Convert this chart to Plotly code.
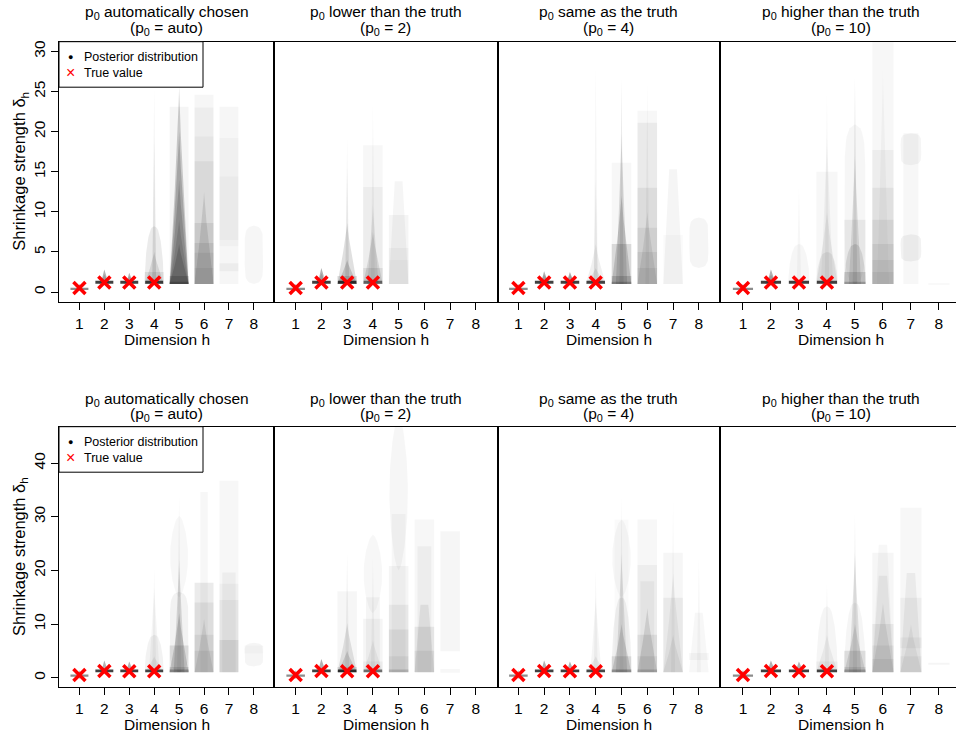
import numpy as np
import plotly.graph_objects as go

W, H = 956, 736
FONT = "Liberation Sans, Arial, sans-serif"

# ---------------- data ----------------
dims = [1, 2, 3, 4, 5, 6, 7, 8]
true_dims = [1, 2, 3, 4]
true_top = [0.5, 1.2, 1.2, 1.2]
true_bottom = [0.5, 1.25, 1.2, 1.2]

panel_labels = ["automatically chosen", "lower than the truth",
                "same as the truth", "higher than the truth"]
panel_p0 = ["auto", "2", "4", "10"]

yticks_top = [0, 5, 10, 15, 20, 25, 30]
yticks_bottom = [0, 10, 20, 30, 40]

# posterior layers: (dimension, low, high, shape, shade)
top_auto = [
    (1, 0.25, 0.55, 'bar', 0.45), (1, 0.1, 1.0, 'n', 0.25),
    (2, 1.05, 1.4, 'bar', 0.75), (2, 0.8, 2.8, 'n', 0.3), (2, 1.0, 2.2, 'm', 0.12),
    (3, 1.05, 1.4, 'bar', 0.75), (3, 0.8, 2.4, 'n', 0.3), (3, 1.0, 2.0, 'm', 0.1),
    (4, 1.05, 1.4, 'bar', 0.7), (4, 1.0, 25.5, 's', 0.05), (4, 1.0, 19.0, 's', 0.06),
    (4, 1.0, 8.2, 'd', 0.08), (4, 1.0, 5.0, 'v', 0.1), (4, 1.0, 2.5, 'b', 0.08),
    (5, 1.0, 23.1, 'b', 0.04), (5, 1.0, 25.6, 'v', 0.18), (5, 1.0, 20.0, 'v', 0.18),
    (5, 1.0, 14.0, 'v', 0.15), (5, 1.0, 9.0, 'v', 0.12), (5, 1.0, 6.0, 'v', 0.15),
    (5, 1.0, 2.0, 'b', 0.15), (5, 1.0, 1.3, 'b', 0.2),
    (6, 1.0, 24.6, 'b', 0.035), (6, 1.0, 23.0, 'b', 0.035), (6, 1.0, 19.4, 'b', 0.03),
    (6, 1.0, 16.3, 'b', 0.05), (6, 1.0, 12.5, 'v', 0.1), (6, 1.0, 8.6, 'b', 0.07),
    (6, 1.0, 6.1, 'b', 0.07), (6, 1.0, 4.9, 'b', 0.06), (6, 1.0, 3.0, 'b', 0.05),
    (7, 1.0, 23.1, 'b', 0.035), (7, 5.7, 19.2, 'b', 0.025), (7, 6.5, 14.4, 'b', 0.025),
    (7, 2.6, 3.6, 'b', 0.04),
    (8, 1.0, 8.3, 'o', 0.035),
]
top_p2 = [
    (1, 0.25, 0.55, 'bar', 0.45), (1, 0.1, 1.0, 'n', 0.25),
    (2, 1.05, 1.4, 'bar', 0.75), (2, 0.8, 3.0, 'n', 0.3), (2, 1.0, 2.3, 'm', 0.12),
    (3, 1.05, 1.4, 'bar', 0.75), (3, 1.0, 19.4, 's', 0.04), (3, 1.0, 15.7, 's', 0.05),
    (3, 1.0, 8.6, 'v', 0.12), (3, 1.0, 4.0, 'v', 0.15), (3, 1.0, 2.0, 'b', 0.12),
    (4, 1.05, 1.4, 'bar', 0.5), (4, 1.0, 23.6, 's', 0.04), (4, 1.0, 18.3, 'b', 0.03),
    (4, 1.0, 13.1, 'b', 0.04), (4, 1.0, 11.0, 'm', 0.08), (4, 1.0, 7.5, 'v', 0.1),
    (4, 1.0, 3.0, 'b', 0.08),
    (5, 1.0, 13.8, 't', 0.04), (5, 1.0, 9.6, 'b', 0.04), (5, 1.0, 5.5, 'b', 0.03),
    (5, 1.0, 4.0, 'b', 0.02),
]
top_p4 = [
    (1, 0.25, 0.55, 'bar', 0.45), (1, 0.1, 1.0, 'n', 0.25),
    (2, 1.05, 1.4, 'bar', 0.75), (2, 0.8, 2.6, 'n', 0.3), (2, 1.0, 2.2, 'm', 0.12),
    (3, 1.05, 1.4, 'bar', 0.75), (3, 0.8, 2.5, 'n', 0.3), (3, 1.0, 2.2, 'm', 0.1),
    (4, 1.05, 1.4, 'bar', 0.7), (4, 1.0, 28.2, 's', 0.04), (4, 1.0, 14.2, 's', 0.06),
    (4, 1.0, 6.0, 'v', 0.06), (4, 1.0, 3.0, 'v', 0.08),
    (5, 1.0, 26.7, 's', 0.08), (5, 1.0, 16.1, 'b', 0.03), (5, 1.0, 19.8, 'm', 0.12),
    (5, 1.0, 12.0, 'v', 0.15), (5, 1.0, 6.0, 'b', 0.12), (5, 1.0, 2.0, 'b', 0.15),
    (5, 1.0, 1.3, 'b', 0.2),
    (6, 1.0, 26.3, 's', 0.04), (6, 1.0, 22.6, 'b', 0.03), (6, 1.0, 21.1, 'b', 0.05),
    (6, 1.0, 13.0, 'b', 0.06), (6, 1.0, 10.0, 'v', 0.08), (6, 1.0, 8.0, 'b', 0.06),
    (6, 1.0, 5.0, 'b', 0.06), (6, 1.0, 3.0, 'b', 0.05),
    (7, 1.0, 15.3, 't', 0.04), (7, 1.0, 7.1, 'b', 0.02),
    (8, 3.0, 9.3, 'o', 0.04),
]
top_p10 = [
    (1, 0.25, 0.55, 'bar', 0.45), (1, 0.1, 1.0, 'n', 0.25),
    (2, 1.05, 1.4, 'bar', 0.75), (2, 0.8, 2.8, 'n', 0.3), (2, 1.0, 2.2, 'm', 0.12),
    (3, 1.05, 1.4, 'bar', 0.75), (3, 1.0, 13.2, 's', 0.03), (3, 1.0, 6.0, 'd', 0.035),
    (4, 1.05, 1.4, 'bar', 0.7), (4, 1.0, 25.0, 's', 0.04), (4, 1.0, 19.8, 'm', 0.04),
    (4, 1.0, 15.0, 'b', 0.03), (4, 1.0, 10.0, 'v', 0.06), (4, 1.0, 5.0, 'd', 0.06),
    (5, 1.0, 26.9, 's', 0.08), (5, 1.0, 20.9, 'o', 0.035), (5, 1.0, 17.0, 'm', 0.1),
    (5, 1.0, 9.0, 'b', 0.06), (5, 1.0, 6.0, 'd', 0.1), (5, 1.0, 2.5, 'b', 0.12),
    (5, 1.0, 1.3, 'b', 0.2),
    (6, 1.0, 31.2, 'b', 0.03), (6, 1.0, 28.0, 'm', 0.03), (6, 1.0, 17.7, 'b', 0.04),
    (6, 1.0, 13.0, 'b', 0.05), (6, 1.0, 9.0, 'b', 0.06), (6, 1.0, 6.0, 'b', 0.06),
    (6, 1.0, 4.0, 'b', 0.05), (6, 1.0, 2.5, 'b', 0.05),
    (7, 1.0, 19.8, 'bn', 0.03), (7, 15.8, 19.8, 'o', 0.04), (7, 3.8, 7.2, 'o', 0.05),
    (8, 0.9, 1.1, 'b', 0.03),
]
bottom_auto = [
    (1, 0.15, 0.6, 'bar', 0.45), (1, -0.3, 1.4, 'n', 0.25),
    (2, 1.0, 1.5, 'bar', 0.75), (2, 0.6, 3.2, 'n', 0.3),
    (3, 1.0, 1.5, 'bar', 0.75), (3, 0.6, 3.0, 'n', 0.3),
    (4, 1.0, 1.5, 'bar', 0.7), (4, 1.0, 20.5, 's', 0.04), (4, 1.0, 17.0, 'm', 0.04),
    (4, 1.0, 8.0, 'd', 0.05), (4, 1.0, 4.0, 'v', 0.06),
    (5, 1.0, 34.2, 's', 0.05), (5, 15.0, 30.2, 'e', 0.03), (5, 1.0, 16.0, 'o', 0.05),
    (5, 1.0, 22.0, 'm', 0.12), (5, 1.0, 12.0, 'v', 0.15), (5, 1.0, 6.0, 'b', 0.1),
    (5, 1.0, 2.0, 'b', 0.1), (5, 1.0, 1.5, 'b', 0.25),
    (6, 1.0, 34.6, 'bs', 0.03), (6, 1.0, 17.7, 'b', 0.08), (6, 1.0, 14.0, 'b', 0.06),
    (6, 1.0, 11.0, 'v', 0.08), (6, 1.0, 8.0, 'b', 0.06), (6, 1.0, 5.0, 'b', 0.06),
    (7, 1.0, 36.7, 'b', 0.03), (7, 1.0, 19.6, 'bn', 0.04), (7, 1.0, 17.5, 'b', 0.03),
    (7, 1.0, 14.5, 'b', 0.04), (7, 1.0, 7.0, 'b', 0.08),
    (8, 2.1, 6.5, 'o', 0.04), (8, 4.5, 6.0, 'b', 0.02),
]
bottom_p2 = [
    (1, 0.15, 0.6, 'bar', 0.45), (1, -0.3, 1.4, 'n', 0.25),
    (2, 1.0, 1.5, 'bar', 0.75), (2, 0.6, 3.5, 'n', 0.3),
    (3, 1.0, 1.5, 'bar', 0.75), (3, 1.0, 23.3, 's', 0.05), (3, 1.0, 16.1, 'b', 0.035),
    (3, 1.0, 10.2, 'v', 0.1), (3, 1.0, 5.0, 'v', 0.12), (3, 1.0, 2.0, 'b', 0.1),
    (4, 1.0, 1.5, 'bar', 0.5), (4, 12.0, 26.7, 'e', 0.03), (4, 1.0, 22.7, 's', 0.04),
    (4, 1.0, 15.0, 'bn', 0.04), (4, 1.0, 11.0, 'b', 0.04), (4, 1.0, 7.0, 'v', 0.05),
    (4, 1.0, 3.0, 'b', 0.04),
    (5, 20.0, 49.0, 'e', 0.035), (5, 1.0, 30.5, 'bn', 0.03), (5, 1.0, 20.8, 'b', 0.04),
    (5, 1.0, 13.6, 'b', 0.05), (5, 1.0, 9.0, 'b', 0.06), (5, 1.0, 4.0, 'b', 0.05),
    (5, 1.0, 1.5, 'b', 0.15),
    (6, 1.0, 29.5, 'b', 0.03), (6, 1.0, 24.5, 'bn', 0.04), (6, 1.0, 13.6, 't', 0.07),
    (6, 1.0, 9.5, 'b', 0.07), (6, 1.0, 5.0, 'b', 0.06),
    (7, 4.9, 27.3, 'b', 0.035), (7, 0.9, 1.6, 'b', 0.03),
]
bottom_p4 = [
    (1, 0.15, 0.6, 'bar', 0.45), (1, -0.3, 1.4, 'n', 0.25),
    (2, 1.0, 1.5, 'bar', 0.75), (2, 0.6, 3.2, 'n', 0.3),
    (3, 1.0, 1.5, 'bar', 0.75), (3, 0.6, 3.0, 'n', 0.3),
    (4, 1.0, 1.5, 'bar', 0.7), (4, 1.0, 20.2, 's', 0.04), (4, 1.0, 15.0, 'm', 0.04),
    (4, 1.0, 4.0, 'v', 0.06),
    (5, 1.0, 34.2, 's', 0.04), (5, 15.0, 29.5, 'e', 0.03), (5, 1.0, 29.5, 'bn', 0.02),
    (5, 1.0, 23.3, 'm', 0.1), (5, 1.0, 15.0, 'd', 0.06), (5, 1.0, 10.0, 'v', 0.12),
    (5, 1.0, 4.0, 'b', 0.1), (5, 1.0, 1.5, 'b', 0.25),
    (6, 1.0, 29.5, 'b', 0.03), (6, 1.0, 21.0, 'b', 0.04), (6, 1.0, 18.0, 'bn', 0.04),
    (6, 1.0, 13.0, 'v', 0.1), (6, 1.0, 8.0, 'b', 0.07), (6, 1.0, 4.0, 'b', 0.06),
    (6, 1.0, 1.5, 'b', 0.15),
    (7, 1.0, 33.6, 's', 0.03), (7, 1.0, 23.3, 'b', 0.035), (7, 1.0, 19.5, 'v', 0.05),
    (7, 1.0, 14.9, 'b', 0.05), (7, 1.0, 8.0, 'v', 0.06),
    (8, 1.0, 22.7, 's', 0.03), (8, 1.0, 12.1, 't', 0.03), (8, 3.3, 4.6, 'b', 0.03),
]
bottom_p10 = [
    (1, 0.15, 0.6, 'bar', 0.45), (1, -0.3, 1.4, 'n', 0.25),
    (2, 1.0, 1.5, 'bar', 0.75), (2, 0.6, 3.2, 'n', 0.3),
    (3, 1.0, 1.5, 'bar', 0.75), (3, 0.6, 3.0, 'n', 0.3),
    (4, 1.0, 1.5, 'bar', 0.7), (4, 1.0, 17.7, 's', 0.04), (4, 1.0, 13.3, 'd', 0.04),
    (4, 1.0, 8.0, 'v', 0.05), (4, 1.0, 3.0, 'b', 0.04),
    (5, 1.0, 30.8, 's', 0.05), (5, 1.0, 23.3, 'm', 0.1), (5, 1.0, 14.0, 'd', 0.04),
    (5, 1.0, 10.0, 'v', 0.1), (5, 1.0, 5.0, 'b', 0.1), (5, 1.0, 2.0, 'b', 0.08),
    (5, 1.0, 1.5, 'b', 0.2),
    (6, 1.0, 24.8, 't', 0.03), (6, 1.0, 23.3, 'b', 0.035), (6, 1.0, 19.0, 't', 0.05),
    (6, 1.0, 14.0, 'v', 0.07), (6, 1.0, 10.0, 'b', 0.06), (6, 1.0, 6.0, 'b', 0.05),
    (6, 1.0, 3.5, 'b', 0.05),
    (7, 1.0, 31.7, 'b', 0.03), (7, 1.0, 19.5, 't', 0.05), (7, 1.0, 14.9, 'b', 0.04),
    (7, 1.0, 10.0, 'v', 0.05), (7, 5.5, 7.5, 'b', 0.04), (7, 1.0, 4.0, 'b', 0.04),
    (8, 2.4, 2.8, 'b', 0.04),
]

panels_layers = [top_auto, top_p2, top_p4, top_p10,
                 bottom_auto, bottom_p2, bottom_p4, bottom_p10]

# ---------------- styling / geometry ----------------
HALF = {
    'b':   lambda t: 0.38 + 0 * t,
    'bn':  lambda t: 0.27 + 0 * t,
    'bs':  lambda t: 0.15 + 0 * t,
    'bar': lambda t: 0.36 + 0 * t,
    'v':   lambda t: 0.38 * (1 - t) ** 1.2,
    'm':   lambda t: 0.22 * (1 - t) ** 1.2,
    's':   lambda t: 0.08 * (1 - t),
    'n':   lambda t: 0.10 * (1 - np.abs(2 * t - 1)),
    't':   lambda t: 0.38 * (1 - 0.6 * t),
    'o':   lambda t: 0.37 * np.clip(1 - np.abs(2 * t - 1) ** 6, 0, 1) ** 0.5,
    'd':   lambda t: 0.38 * np.clip(np.cos(np.pi / 2 * t), 0, 1) ** 0.4,
    'e':   lambda t: 0.36 * np.clip(np.sin(np.pi * t), 0, 1) ** 0.6,
}

px_x = [(59, 274.3), (274.3, 497.5), (497.5, 720), (720, 956)]
px_y = [(41.7, 301.7), (426.7, 687.3)]
x_ranges = [[0.18, 8.82], [0.17, 8.84], [0.19, 8.82], [0.18, 8.61]]
y_ranges = [[-1.2, 31.2], [-1.8, 46.8]]
label_standoff = [1, 0]
xtitle_y = [340, 724]


def fx(p):
    return p / W


def fy(p):
    return 1 - p / H


fig = go.Figure()
layout = dict(
    template="none",
    width=W, height=H, margin=dict(l=0, r=0, t=0, b=0, pad=0, autoexpand=False),
    paper_bgcolor="white", plot_bgcolor="white", showlegend=False,
    font=dict(family=FONT, size=15.5, color="black"),
)
annotations = []
shapes = []

for k in range(8):
    row, col = divmod(k, 4)
    xa = "x" if k == 0 else f"x{k + 1}"
    ya = "y" if k == 0 else f"y{k + 1}"
    t = np.linspace(0, 1, 41)
    for (h, lo, hi, kind, shade) in panels_layers[k]:
        w = HALF[kind](t)
        yy = lo + (hi - lo) * t
        xs = np.concatenate([h + w, (h - w)[::-1]])
        ys = np.concatenate([yy, yy[::-1]])
        fig.add_trace(go.Scatter(
            x=xs, y=ys, mode="lines", fill="toself",
            fillcolor=f"rgba(0,0,0,{shade})", line=dict(width=0),
            hoverinfo="skip", showlegend=False, xaxis=xa, yaxis=ya))
    tv = true_top if row == 0 else true_bottom
    fig.add_trace(go.Scatter(
        x=true_dims, y=tv, mode="markers",
        marker=dict(symbol="x-thin", size=12, line=dict(width=3.5, color="red"),
                    color="red"),
        hoverinfo="skip", showlegend=False, xaxis=xa, yaxis=ya))

    xkey = "xaxis" if k == 0 else f"xaxis{k + 1}"
    ykey = "yaxis" if k == 0 else f"yaxis{k + 1}"
    x0, x1 = px_x[col]
    y0, y1 = px_y[row]
    layout[xkey] = dict(
        domain=[fx(x0), fx(x1)], range=x_ranges[col], anchor=ya, automargin=False,
        tickmode="array", tickvals=dims, ticktext=[str(d) for d in dims],
        ticks="outside", ticklen=7, tickwidth=1, tickcolor="black",
        ticklabelstandoff=label_standoff[row],
        showline=True, linecolor="black", linewidth=1.3, mirror=True,
        showgrid=False, zeroline=False, tickfont=dict(size=15.5),
    )
    yt = yticks_top if row == 0 else yticks_bottom
    ycfg = dict(
        domain=[fy(y1), fy(y0)], range=y_ranges[row], anchor=xa, automargin=False,
        showline=True, linecolor="black", linewidth=1.3,
        mirror=(col != 3), showgrid=False, zeroline=False,
    )
    if col == 0:
        ycfg.update(tickmode="array", tickvals=yt, ticktext=[str(v) for v in yt],
                    ticks="outside", ticklen=7, tickwidth=1, tickcolor="black",
                    tickangle=-90, tickfont=dict(size=15.5))
        annotations.append(dict(
            x=fx(20), y=fy((y0 + y1) / 2), xref="paper", yref="paper",
            showarrow=False, textangle=-90, xanchor="center", yanchor="middle",
            text="Shrinkage strength δ<sub>h</sub>", font=dict(size=16.5)))
    else:
        ycfg.update(showticklabels=False, ticks="")
    layout[ykey] = ycfg

    # x-axis title
    cxa = fx((x0 + x1) / 2) if col < 3 else fx((x0 + 962) / 2)
    annotations.append(dict(
        x=cxa, y=fy(xtitle_y[row]), xref="paper", yref="paper",
        showarrow=False, xanchor="center", yanchor="middle",
        text="Dimension h", font=dict(size=15.5)))

    # panel titles
    cx = fx((x0 + (962 if col == 3 else x1)) / 2)
    ty1, ty2 = (13, 29) if row == 0 else (399, 414)
    annotations.append(dict(
        x=cx, y=fy(ty1), xref="paper", yref="paper", showarrow=False,
        xanchor="center", yanchor="middle",
        text=f"p<sub>0</sub> {panel_labels[col]}", font=dict(size=15.5)))
    annotations.append(dict(
        x=cx, y=fy(ty2), xref="paper", yref="paper", showarrow=False,
        xanchor="center", yanchor="middle",
        text=f"(p<sub>0</sub> = {panel_p0[col]})", font=dict(size=15.5)))

# legends (one per row, inside the first panel)
for row in range(2):
    top = px_y[row][0]
    shapes.append(dict(type="rect", xref="paper", yref="paper",
                       x0=fx(59), x1=fx(203), y0=fy(top + 45.5), y1=fy(top),
                       fillcolor="white", line=dict(color="black", width=1),
                       layer="above"))
    r1, r2 = top + 15.5, top + 31
    annotations += [
        dict(x=fx(70), y=fy(r1), xref="paper", yref="paper", showarrow=False,
             text="●", font=dict(size=9, color="black"),
             xanchor="center", yanchor="middle"),
        dict(x=fx(82), y=fy(r1), xref="paper", yref="paper", showarrow=False,
             text="Posterior distribution", font=dict(size=12.5),
             xanchor="left", yanchor="middle"),
        dict(x=fx(70), y=fy(r2), xref="paper", yref="paper", showarrow=False,
             text="×", font=dict(size=16, color="red"),
             xanchor="center", yanchor="middle"),
        dict(x=fx(82), y=fy(r2), xref="paper", yref="paper", showarrow=False,
             text="True value", font=dict(size=12.5),
             xanchor="left", yanchor="middle"),
    ]

layout["annotations"] = annotations
layout["shapes"] = shapes
fig.update_layout(**layout)
fig.write_html("out.html", config={"displayModeBar": False},
               post_script="document.body.style.margin='0px';"
                           "document.body.style.overflow='hidden';")
